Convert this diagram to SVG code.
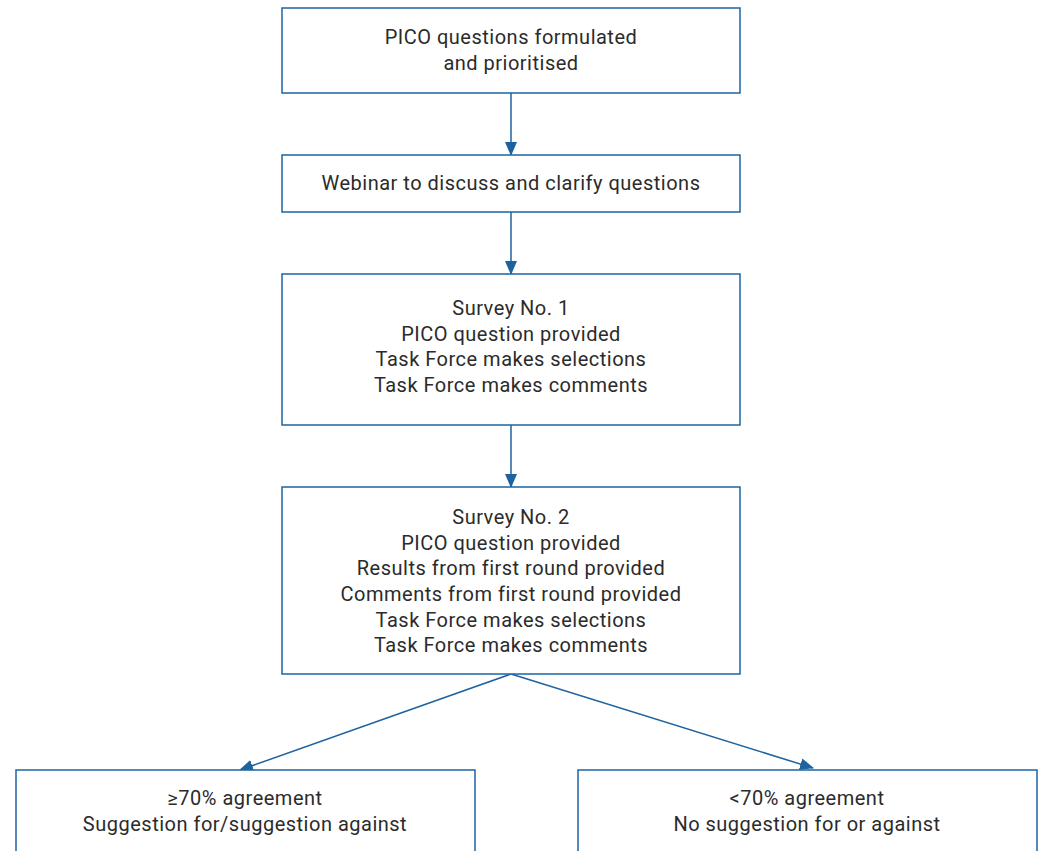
<svg xmlns="http://www.w3.org/2000/svg" width="1041" height="851" viewBox="0 0 1041 851">
<style>
.box{fill:#fff;stroke:#1e63a0;stroke-width:1.5}
.t{font-family:Roboto,"Liberation Sans",sans-serif;font-size:20px;letter-spacing:0.5px;fill:#2b2b2b;text-anchor:middle}
.c{stroke:#1e63a0;stroke-width:1.5;fill:none;marker-end:url(#ah)}
</style>
<defs>
<marker id="ah" markerWidth="14" markerHeight="12" refX="13" refY="6" orient="auto" markerUnits="userSpaceOnUse">
<path d="M0,0 L14,6 L0,12 Z" fill="#1e63a0"/>
</marker>
</defs>
<rect width="1041" height="851" fill="#fff"/>
<g id="connectors">
<line class="c" x1="511" y1="93" x2="511" y2="155"/>
<line class="c" x1="511" y1="212" x2="511" y2="274"/>
<line class="c" x1="511" y1="425" x2="511" y2="487"/>
<line class="c" x1="511" y1="674" x2="240" y2="770"/>
<line class="c" x1="511" y1="674" x2="813" y2="768"/>
</g>
<g id="n1">
<rect class="box" x="282" y="8" width="458" height="85"/>
<text class="t" x="511" y="44">PICO questions formulated</text>
<text class="t" x="511" y="70">and prioritised</text>
</g>
<g id="n2">
<rect class="box" x="282" y="155" width="458" height="57"/>
<text class="t" x="511" y="190">Webinar to discuss and clarify questions</text>
</g>
<g id="n3">
<rect class="box" x="282" y="274" width="458" height="151"/>
<text class="t" x="511" y="315">Survey No. 1</text>
<text class="t" x="511" y="341">PICO question provided</text>
<text class="t" x="511" y="366">Task Force makes selections</text>
<text class="t" x="511" y="392">Task Force makes comments</text>
</g>
<g id="n4">
<rect class="box" x="282" y="487" width="458" height="187"/>
<text class="t" x="511" y="524">Survey No. 2</text>
<text class="t" x="511" y="550">PICO question provided</text>
<text class="t" x="511" y="575">Results from first round provided</text>
<text class="t" x="511" y="601">Comments from first round provided</text>
<text class="t" x="511" y="627">Task Force makes selections</text>
<text class="t" x="511" y="652">Task Force makes comments</text>
</g>
<g id="n5">
<rect class="box" x="16" y="770" width="459" height="100"/>
<text class="t" x="245" y="805">≥70% agreement</text>
<text class="t" x="245" y="831">Suggestion for/suggestion against</text>
</g>
<g id="n6">
<rect class="box" x="578" y="770" width="459" height="100"/>
<text class="t" x="807" y="805">&lt;70% agreement</text>
<text class="t" x="807" y="831">No suggestion for or against</text>
</g>
</svg>
